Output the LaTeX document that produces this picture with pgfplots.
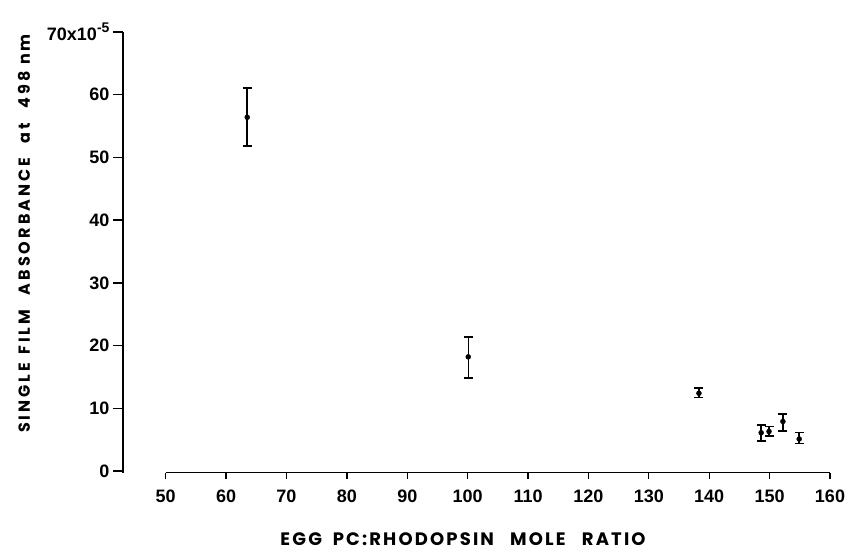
\documentclass[border=0pt]{standalone}
\usepackage{fontspec}
\setmainfont{Liberation Sans}
\newfontfamily\xlblfont[LetterSpace=12]{Poppins}
\newfontfamily\ylblfont[LetterSpace=19]{Poppins}
\usepackage{pgfplots}
\pgfplotsset{compat=1.18}

\begin{document}
\begin{tikzpicture}
\begin{axis}[
    scale only axis,
    width=707pt, height=441pt,
    xmin=42.93, xmax=160,
    ymin=-0.32, ymax=70,
    axis x line=bottom, axis y line=left,
    x axis line style={draw=none},
    y axis line style={-, line width=1.3pt},
    xtick={50,60,...,160},
    ytick={0,10,...,70},
    yticklabels={0,10,20,30,40,50,60,{70x10\raisebox{8pt}{\fontsize{14}{14}\selectfont -5}}},
    tick align=outside,
    major tick length=10pt,
    xtick style={/pgfplots/major tick length=6pt},
    tick style={line width=1.3pt, black},
    /pgf/number format/assume math mode=true,
    ticklabel style={font=\fontsize{18}{18}\selectfont\bfseries},
    xticklabel style={yshift=-3pt},
    xlabel={EGG\hspace{0.6em}PC:RHODOPSIN\hspace{0.9em}MOLE\hspace{0.9em}RATIO},
    ylabel={SINGLE\hspace{0.5em}FILM\hspace{0.9em}ABSORBANCE\hspace{0.9em}at\hspace{0.9em}498\hspace{0.4em}nm},
    xlabel style={font=\xlblfont\fontsize{18}{18}\selectfont\bfseries, at={(axis description cs:0.481,-0.150)}, anchor=center},
    ylabel style={font=\ylblfont\fontsize{16}{16}\selectfont\bfseries, at={(axis description cs:-0.140,0.543)}, anchor=center},
]
\draw[line width=1.3pt] (axis cs:50,-0.32) -- (axis cs:160,-0.32);
\addplot[only marks, mark=*, mark size=2.5pt,
    error bars/.cd, y dir=both, y explicit,
    error bar style={line width=1.5pt},
    error mark options={rotate=90, mark size=4.5pt, line width=1.5pt}]
coordinates {
    (63.5,56.4) += (0,4.7) -= (0,4.6)
    (100.1,18.2) += (0,3.2) -= (0,3.4)
    (138.3,12.4) += (0,0.8) -= (0,0.7)
    (148.6,6.1) += (0,1.2) -= (0,1.3)
    (149.9,6.3) += (0,0.8) -= (0,0.7)
    (152.2,7.9) += (0,1.2) -= (0,1.5)
    (154.9,5.1) += (0,1.0) -= (0,0.7)
};
\end{axis}
\pgfresetboundingbox
\useasboundingbox (-123pt,-84pt) rectangle (732pt,473pt);
\end{tikzpicture}
\end{document}
